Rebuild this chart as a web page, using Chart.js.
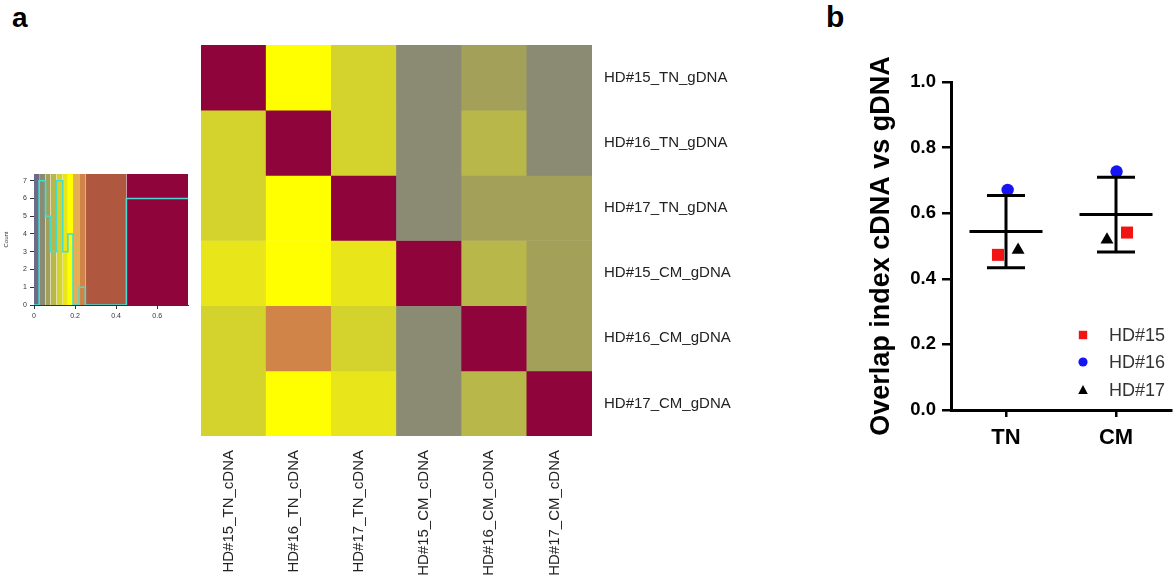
<!DOCTYPE html>
<html><head><meta charset="utf-8">
<script src="https://cdn.jsdelivr.net/npm/chart.js@4.4.1/dist/chart.umd.min.js"></script>
<style>
html,body{margin:0;padding:0;background:#fff;width:1174px;height:581px;overflow:hidden;font-family:'Liberation Sans',Arial,sans-serif}
.box{position:absolute}
.panel{position:absolute;font-weight:bold;color:#000;line-height:1;font-family:'Liberation Sans',Arial,sans-serif}
</style></head><body>
<div class="panel" style="left:12px;top:4px;font-size:28px">a</div>
<div class="panel" style="left:826px;top:2px;font-size:30px">b</div>
<div class="box" style="left:0;top:165px;width:195px;height:170px"><canvas id="key" width="195" height="170"></canvas></div>
<div class="box" style="left:195px;top:39px;width:580px;height:542px"><canvas id="heat" width="580" height="542"></canvas></div>
<div class="box" style="left:840px;top:40px;width:334px;height:470px"><canvas id="dots" width="334" height="470"></canvas></div>
<script>
const FONT = "'Liberation Sans', Arial, sans-serif";

// ---------- Panel a: overlap heatmap (rows = gDNA, columns = cDNA) ----------
const colLabels = ['HD#15_TN_cDNA','HD#16_TN_cDNA','HD#17_TN_cDNA','HD#15_CM_cDNA','HD#16_CM_cDNA','HD#17_CM_cDNA'];
const rowLabels = ['HD#15_TN_gDNA','HD#16_TN_gDNA','HD#17_TN_gDNA','HD#15_CM_gDNA','HD#16_CM_gDNA','HD#17_CM_gDNA'];
const rowHD15TN = [1.00, 0.18, 0.125, 0.04, 0.07, 0.04];
const rowHD16TN = [0.125, 1.00, 0.125, 0.04, 0.095, 0.04];
const rowHD17TN = [0.125, 0.18, 1.00, 0.04, 0.07, 0.07];
const rowHD15CM = [0.15, 0.18, 0.15, 1.00, 0.095, 0.07];
const rowHD16CM = [0.125, 0.235, 0.125, 0.04, 1.00, 0.07];
const rowHD17CM = [0.125, 0.18, 0.15, 0.04, 0.095, 1.00];
const heatRows = [rowHD15TN, rowHD16TN, rowHD17TN, rowHD15CM, rowHD16CM, rowHD17CM];

// ---------- Color key + histogram ----------
const keyBreaks = [0, 0.025, 0.056, 0.08, 0.11, 0.14, 0.165, 0.19, 0.22, 0.25, 0.45, 0.75];
const keyCounts = [0, 7, 5, 3, 7, 3, 4, 0, 1, 0, 6];
const keyXTicks = [0, 0.2, 0.4, 0.6];
const keyYTicks = [0, 1, 2, 3, 4, 5, 6, 7];
const keyColors = ['#6b6b87','#8b8b73','#a3a05a','#b8b74a','#d4d32e','#e8e61a','#ffff00','#e5ad55','#d08448','#b0573f','#8e043b'];
const KEY_YMAX = 7.38;

function colorFor(v){
  for (let i = 0; i < keyColors.length; i++) {
    if (v >= keyBreaks[i] && v < keyBreaks[i+1]) return keyColors[i];
  }
  return keyColors[keyColors.length - 1];
}

// ---------- Panel b ----------
const groups = ['TN', 'CM'];
const hd15 = [0.473, 0.541];
const hd16 = [0.671, 0.727];
const hd17 = [0.488, 0.519];
const yTicksB = [0, 0.2, 0.4, 0.6, 0.8, 1.0];

function noPad(s){ s.paddingTop = 0; s.paddingBottom = 0; s.paddingLeft = 0; s.paddingRight = 0; }

// ===== Key chart =====
const keyDatasets = keyColors.map((c, i) => ({
  type: 'line',
  data: [{x: keyBreaks[i], y: KEY_YMAX}, {x: keyBreaks[i+1], y: KEY_YMAX}],
  fill: 'origin', backgroundColor: c, borderWidth: 0, borderColor: c,
  pointRadius: 0, showLine: true, order: 2
}));
const histPts = keyCounts.map((c, i) => ({x: keyBreaks[i], y: c}));
histPts.push({x: keyBreaks[keyBreaks.length - 1], y: keyCounts[keyCounts.length - 1]});
keyDatasets.push({
  type: 'line', data: histPts, stepped: true, borderColor: '#46dcd2', borderWidth: 1.6,
  pointRadius: 0, fill: false, showLine: true, order: 1
});
new Chart(document.getElementById('key'), {
  type: 'scatter',
  data: {datasets: keyDatasets},
  options: {
    responsive: false, animation: false,
    layout: {padding: {top: 9, right: 7}, autoPadding: false},
    plugins: {legend: {display: false}, tooltip: {enabled: false}},
    scales: {
      x: {
        type: 'linear', min: 0, max: 0.75,
        afterBuildTicks(s){ s.ticks = keyXTicks.map(v => ({value: v})); },
        ticks: {font: {size: 7, family: FONT}, color: '#333', padding: 3, callback: v => String(v)},
        grid: {drawOnChartArea: false, drawTicks: true, tickLength: 4, color: '#333'},
        border: {display: true, color: '#333', width: 1},
        afterFit(s){ s.height = 30; noPad(s); }
      },
      y: {
        type: 'linear', min: 0, max: KEY_YMAX,
        afterBuildTicks(s){ s.ticks = keyYTicks.map(v => ({value: v})); },
        ticks: {font: {size: 7, family: FONT}, color: '#333', padding: 3},
        grid: {drawOnChartArea: false, drawTicks: true, tickLength: 4, color: '#333'},
        border: {display: true, color: '#333', width: 1},
        title: {display: true, text: 'Count', font: {size: 6, family: FONT}, color: '#333', padding: {top: 3, bottom: 0}},
        afterFit(s){ s.width = 34; noPad(s); }
      }
    }
  }
});

// ===== Heatmap =====
new Chart(document.getElementById('heat'), {
  type: 'bar',
  data: {
    labels: colLabels,
    datasets: heatRows.map((row, r) => ({
      data: row.map(() => [r, r + 1]),
      backgroundColor: row.map(colorFor),
      borderWidth: 0, barPercentage: 1, categoryPercentage: 1, grouped: false
    }))
  },
  options: {
    responsive: false, animation: false,
    layout: {padding: {left: 6, top: 6}},
    plugins: {legend: {display: false}, tooltip: {enabled: false}},
    scales: {
      x: {
        grid: {display: false}, border: {display: false},
        ticks: {autoSkip: false, maxRotation: 90, minRotation: 90, padding: 6, labelOffset: -5, font: {size: 15, family: FONT}, color: '#222'},
        afterFit(s){ s.height = 145; noPad(s); }
      },
      y: {
        type: 'linear', position: 'right', min: 0, max: 6, reverse: true,
        grid: {display: false}, border: {display: false},
        afterBuildTicks(s){ s.ticks = rowLabels.map((_, i) => ({value: i + 0.5})); },
        ticks: {callback: v => rowLabels[Math.floor(v)], padding: 4, font: {size: 15, family: FONT}, color: '#222'},
        afterFit(s){ s.width = 183; noPad(s); }
      }
    }
  }
});

// ===== Panel b: dot plot with mean ± SD =====
const jitter = {hd15: [-0.073, 0.1], hd16: [0.015, 0.005], hd17: [0.11, -0.082]};
const series = [
  {label: 'HD#15', vals: hd15, j: jitter.hd15, style: 'rect', color: '#f01414', r: 8.5},
  {label: 'HD#16', vals: hd16, j: jitter.hd16, style: 'circle', color: '#1414f5', r: 6.2},
  {label: 'HD#17', vals: hd17, j: jitter.hd17, style: 'triangle', color: '#000000', r: 7.5}
];
const meanSd = {
  id: 'meanSd',
  afterDatasetsDraw(chart){
    const {ctx, scales: {x, y}} = chart;
    ctx.save();
    ctx.strokeStyle = '#000'; ctx.lineWidth = 3; ctx.lineCap = 'butt';
    groups.forEach((g, gi) => {
      const vals = series.map(s => s.vals[gi]);
      const m = vals.reduce((a, b) => a + b, 0) / vals.length;
      const sd = Math.sqrt(vals.reduce((a, b) => a + (b - m) * (b - m), 0) / (vals.length - 1));
      const cx = x.getPixelForValue(gi);
      const ym = y.getPixelForValue(m), yt = y.getPixelForValue(m + sd), yb = y.getPixelForValue(m - sd);
      ctx.beginPath();
      ctx.moveTo(cx - 36.5, ym); ctx.lineTo(cx + 36.5, ym);
      ctx.moveTo(cx, yt); ctx.lineTo(cx, yb);
      ctx.moveTo(cx - 19, yt); ctx.lineTo(cx + 19, yt);
      ctx.moveTo(cx - 19, yb); ctx.lineTo(cx + 19, yb);
      ctx.stroke();
    });
    // legend
    const lx = chart.chartArea.right - 88, tx = chart.chartArea.right - 62;
    const rows = [295, 322, 350];
    ctx.font = '18px ' + FONT; ctx.textBaseline = 'middle'; ctx.textAlign = 'left';
    series.forEach((s, i) => {
      ctx.fillStyle = s.color;
      ctx.beginPath();
      if (s.style === 'rect') { ctx.rect(lx - 4.2, rows[i] - 4.2, 8.4, 8.4); }
      else if (s.style === 'circle') { ctx.arc(lx, rows[i], 4.6, 0, Math.PI * 2); }
      else { ctx.moveTo(lx, rows[i] - 5); ctx.lineTo(lx + 4.8, rows[i] + 4); ctx.lineTo(lx - 4.8, rows[i] + 4); ctx.closePath(); }
      ctx.fill();
      ctx.fillStyle = '#333';
      ctx.fillText(s.label, tx, rows[i] + 1);
    });
    ctx.restore();
  }
};
new Chart(document.getElementById('dots'), {
  type: 'scatter',
  data: {
    datasets: series.map(s => ({
      label: s.label,
      data: s.vals.map((v, gi) => ({x: gi + s.j[gi], y: v})),
      pointStyle: s.style, pointRadius: s.r, backgroundColor: s.color, borderColor: s.color, borderWidth: 0
    }))
  },
  options: {
    responsive: false, animation: false,
    layout: {padding: {top: 42, right: 3}, autoPadding: false},
    plugins: {legend: {display: false}, tooltip: {enabled: false}},
    scales: {
      x: {
        type: 'linear', min: -0.5, max: 1.5,
        afterBuildTicks(s){ s.ticks = groups.map((_, i) => ({value: i})); },
        ticks: {callback: v => groups[v], font: {size: 22, weight: 'bold', family: FONT}, color: '#000', padding: 8},
        grid: {drawOnChartArea: false, drawTicks: true, tickLength: 7, lineWidth: 2.5, color: '#000'},
        border: {display: true, color: '#000', width: 3},
        afterFit(s){ s.height = 100; noPad(s); }
      },
      y: {
        type: 'linear', min: 0, max: 1,
        afterBuildTicks(s){ s.ticks = yTicksB.map(v => ({value: v})); },
        ticks: {callback: v => v.toFixed(1), font: {size: 18.5, weight: 'bold', family: FONT}, color: '#000', padding: 6},
        grid: {drawOnChartArea: false, drawTicks: true, tickLength: 9, lineWidth: 2.5, color: '#000'},
        border: {display: true, color: '#000', width: 3},
        title: {display: true, text: 'Overlap index cDNA vs gDNA', font: {size: 27, weight: 'bold', family: FONT}, color: '#000', padding: {top: 25, bottom: 0}},
        afterFit(s){ s.width = 111; noPad(s); }
      }
    }
  },
  plugins: [meanSd]
});
</script>
</body></html>
